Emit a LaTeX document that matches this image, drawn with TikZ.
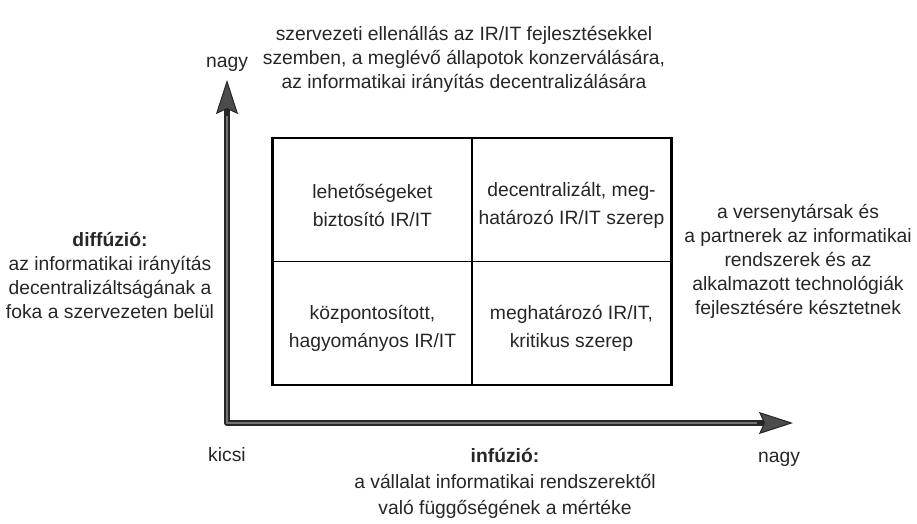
\documentclass[tikz,border=0pt]{standalone}
\usepackage{fontspec}
\setmainfont{Liberation Sans}
\usetikzlibrary{positioning}
\usetikzlibrary{calc}
\usetikzlibrary{arrows.meta}

\begin{document}
\begin{tikzpicture}[
    x=1pt, y=-1pt,
    axis/.style={line width=6pt, draw=black!85, line join=round,
        {Stealth[length=34pt, width=22pt, inset=5pt, line width=1pt, fill=black!70]}-{Stealth[length=34pt, width=22pt, inset=5pt, line width=1pt, fill=black!70]}},
    axisinner/.style={line width=2.2pt, draw=black!55},
    txt/.style={align=center, inner sep=0pt, text=black!85, font=\fontsize{19.3}{24}\selectfont},
    cell/.style={draw=black, line width=1.3pt, minimum width=199pt, minimum height=123pt, inner sep=0pt},
    celltxt/.style={txt, font=\fontsize{19.3}{28}\selectfont, yshift=-5pt},
  ]
  \useasboundingbox (0,0) rectangle (917,524);

  % axes
  \coordinate (O) at (227,423);
  \coordinate (YTIP) at (227,80);
  \coordinate (XTIP) at (793,423);
  \draw [axis] (YTIP) -- (O) -- (XTIP);
  \draw [axisinner] ($(YTIP)+(0,36)$) -- (O) -- ($(XTIP)+(-36,0)$);

  \node [txt, above=8pt of YTIP] (NAGYY) {nagy};
  \node [txt, below=24pt of O] (KICSI) {kicsi};
  \node [txt, below=29pt of XTIP, xshift=-14pt] (NAGYX) {nagy};

  % 2x2 matrix
  \node [cell, label={[celltxt]center:{lehetőségeket\\biztosító IR/IT}}] (C11) at (372.5,200) {};
  \node [cell, label={[celltxt]center:{decentralizált, meg-\\határozó IR/IT szerep}}] (C12) at (571.5,200) {};
  \node [cell, label={[celltxt]center:{központosított,\\hagyományos IR/IT}}] (C21) at (372.5,323) {};
  \node [cell, label={[celltxt]center:{meghatározó IR/IT,\\kritikus szerep}}] (C22) at (571.5,323) {};
  \draw [line width=2pt] (C11.north west) rectangle (C22.south east);

  % texts around
  \node [txt] (TOP) at (464,59) {szervezeti ellenállás az IR/IT fejlesztésekkel\\szemben, a meglévő állapotok konzerválására,\\az informatikai irányítás decentralizálására};
  \node [txt] (DIFF) at (110,276) {\textbf{diffúzió:}\\az informatikai irányítás\\decentralizáltságának a\\foka a szervezeten belül};
  \node [txt] (VERS) at (798,261) {a versenytársak és\\a partnerek az informatikai\\rendszerek és az\\alkalmazott technológiák\\fejlesztésére késztetnek};
  \node [txt, font=\fontsize{19.3}{26}\selectfont] (INF) at (505,483) {\textbf{infúzió:}\\a vállalat informatikai rendszerektől\\való függőségének a mértéke};

\end{tikzpicture}
\end{document}
